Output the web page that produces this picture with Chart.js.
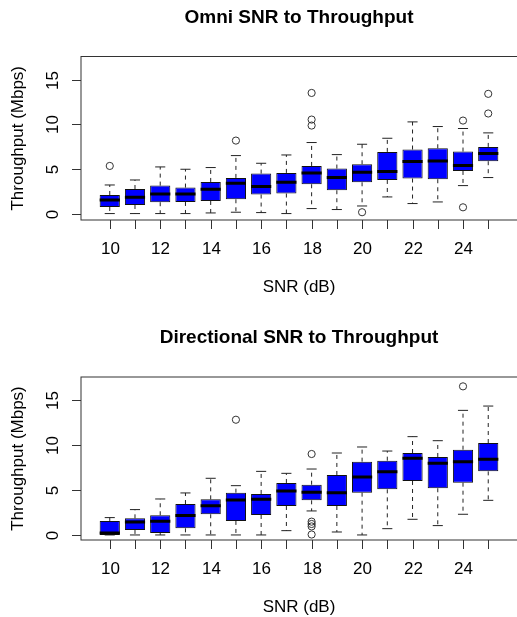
<!DOCTYPE html>
<html>
<head>
<meta charset="utf-8">
<script src="https://cdn.jsdelivr.net/npm/chart.js@4/dist/chart.umd.min.js"></script>
<style>
  html, body { margin: 0; padding: 0; background: #fff; }
  #wrap { position: relative; width: 517px; height: 617px; overflow: hidden; }
  canvas { position: absolute; left: 0; }
  #omniChart { top: 0; }
  #dirChart { top: 310px; }
</style>
</head>
<body>
<div id="wrap">
  <canvas id="omniChart" width="517" height="310"></canvas>
  <canvas id="dirChart" width="517" height="307"></canvas>
</div>
<script>
// SNR categories and tick labels
const snr = [10, 11, 12, 13, 14, 15, 16, 17, 18, 19, 20, 21, 22, 23, 24, 25];
const snrLabels = ['10', '', '12', '', '14', '', '16', '', '18', '', '20', '', '22', '', '24', ''];
const yTicks = [0, 5, 10, 15];

// Omni: five-number summaries per SNR (Mbps)
const omniMin = [0, 0, 0, 0, 0.07, 0.15, 0.11, 0, 0.56, 0.45, 0.85, 1.86, 1.12, 1.3, 3.13, 4.03];
const omniQ1  = [0.74, 0.96, 1.27, 1.3, 1.41, 1.6, 2.13, 2.24, 3.28, 2.61, 3.5, 3.76, 3.92, 3.84, 4.77, 5.86];
const omniMed = [1.52, 1.83, 2.2, 2.2, 2.72, 3.39, 3.02, 3.5, 4.55, 4.03, 4.62, 4.7, 5.82, 5.89, 5.37, 6.72];
const omniQ3  = [2.08, 2.75, 3.13, 2.91, 3.54, 3.99, 4.48, 4.55, 5.33, 5.04, 5.52, 6.9, 7.17, 7.31, 6.94, 7.46];
const omniMax = [3.2, 3.76, 5.22, 4.96, 5.15, 6.49, 5.63, 6.56, 7.95, 6.6, 7.76, 8.43, 10.26, 9.74, 9.52, 9.03];
const omniOut = [[10, 5.33], [15, 8.17], [18, 13.5], [18, 10.52], [18, 9.85], [20, 0.15], [24, 10.41], [24, 0.7], [25, 13.4], [25, 11.2]];

// Directional
const dirMin = [0, 0, 0, 0, 0, 0, 0, 0.48, 2.67, 0.33, 0, 0.7, 1.74, 1.04, 2.3, 3.85];
const dirQ1  = [0, 0.56, 0.22, 0.74, 2.3, 1.56, 2.22, 3.22, 3.85, 3.22, 4.7, 5.07, 6.0, 5.19, 5.81, 7.07];
const dirMed = [0.22, 1.44, 1.52, 2.15, 3.26, 3.89, 3.96, 4.89, 4.74, 4.7, 6.44, 7.04, 8.52, 7.96, 8.15, 8.41];
const dirQ3  = [1.56, 1.85, 2.19, 3.44, 3.96, 4.7, 4.56, 5.78, 5.59, 6.67, 8.15, 8.26, 9.11, 8.67, 9.48, 10.22];
const dirMax = [1.93, 2.82, 4.0, 4.67, 6.3, 5.48, 7.07, 6.85, 7.33, 9.11, 9.78, 9.33, 10.93, 10.48, 13.85, 14.33];
const dirOut = [[15, 12.81], [18, 9.0], [18, 1.48], [18, 1.22], [18, 0.95], [18, 0.05], [24, 16.52]];

const FONT = '"Liberation Sans", Arial, Helvetica, sans-serif';

// R-style frame, ticks and labels drawn from the chart's own scales
const rAxes = {
  id: 'rAxes',
  afterDraw(chart, args, opts) {
    const { ctx, chartArea: a, scales } = chart;
    const x = scales.x, y = scales.y;
    ctx.save();
    ctx.strokeStyle = '#333';
    ctx.lineWidth = 1;
    // right side of the frame falls just past the page edge
    ctx.strokeRect(a.left, a.top, a.right - a.left + 1, a.bottom - a.top);

    ctx.fillStyle = '#000';
    ctx.font = '17px ' + FONT;
    ctx.textAlign = 'center';
    ctx.textBaseline = 'middle';
    snr.forEach((s, i) => {
      const px = Math.round(x.getPixelForValue(i + 1)) + 0.5;
      ctx.beginPath();
      ctx.moveTo(px, a.bottom);
      ctx.lineTo(px, a.bottom + 9);
      ctx.stroke();
      if (snrLabels[i]) ctx.fillText(snrLabels[i], px, a.bottom + 29);
    });
    yTicks.forEach(v => {
      const py = Math.round(y.getPixelForValue(v)) + 0.5;
      ctx.beginPath();
      ctx.moveTo(a.left - 9, py);
      ctx.lineTo(a.left, py);
      ctx.stroke();
      ctx.save();
      ctx.translate(a.left - 28, py);
      ctx.rotate(-Math.PI / 2);
      ctx.fillText(String(v), 0, 0);
      ctx.restore();
    });

    ctx.fillText(opts.xTitle, (a.left + a.right) / 2, a.bottom + 67);
    ctx.save();
    ctx.translate(18.5, (a.top + a.bottom) / 2);
    ctx.rotate(-Math.PI / 2);
    ctx.fillText(opts.yTitle, 0, 0);
    ctx.restore();

    ctx.font = 'bold 19px ' + FONT;
    ctx.fillText(opts.title, (a.left + a.right) / 2, a.top - 39);
    ctx.restore();
  }
};

function boxDatasets(mins, q1, med, q3, maxs, outs) {
  const pos = snr.map((s, i) => i + 1);
  const gap = x => ({ x, y: null });
  const half = 0.4, cap = 0.2;
  return [
    {
      type: 'line', order: 0,
      data: pos.flatMap((x, i) => [{ x: x - half, y: med[i] }, { x: x + half, y: med[i] }, gap(x)]),
      borderColor: '#000', borderWidth: 3, pointRadius: 0, fill: false
    },
    {
      type: 'scatter', order: 1,
      data: outs.map(([s, v]) => ({ x: snr.indexOf(s) + 1, y: v })),
      pointStyle: 'circle', pointRadius: 3.6, borderWidth: 1,
      borderColor: '#333', backgroundColor: 'rgba(0,0,0,0)'
    },
    {
      type: 'bar', order: 2,
      data: pos.map((x, i) => ({ x, y: [q1[i], q3[i]] })),
      backgroundColor: '#0000ff', borderColor: '#111', borderWidth: 1, borderSkipped: false,
      categoryPercentage: 1, barPercentage: 0.8
    },
    {
      type: 'line', order: 3,
      data: pos.flatMap((x, i) => [{ x, y: q3[i] }, { x, y: maxs[i] }, gap(x), { x, y: q1[i] }, { x, y: mins[i] }, gap(x)]),
      borderColor: '#222', borderWidth: 1, borderDash: [4, 4], pointRadius: 0, fill: false
    },
    {
      type: 'line', order: 3,
      data: pos.flatMap((x, i) => [
        { x: x - cap, y: maxs[i] }, { x: x + cap, y: maxs[i] }, gap(x),
        { x: x - cap, y: mins[i] }, { x: x + cap, y: mins[i] }, gap(x)
      ]),
      borderColor: '#222', borderWidth: 1, pointRadius: 0, fill: false
    }
  ];
}

function makeChart(id, datasets, title, yMin, yMax, pad) {
  return new Chart(document.getElementById(id), {
    type: 'bar',
    data: { datasets },
    plugins: [rAxes],
    options: {
      responsive: false,
      animation: false,
      devicePixelRatio: 1,
      events: [],
      layout: { padding: pad, autoPadding: false },
      plugins: {
        legend: { display: false },
        tooltip: { enabled: false },
        rAxes: { title, xTitle: 'SNR (dB)', yTitle: 'Throughput (Mbps)' }
      },
      scales: {
        x: {
          type: 'linear', display: false, offset: false, grid: { offset: false },
          min: -0.14, max: 17.14,
          afterBuildTicks: s => { s.ticks = snr.map((v, i) => ({ value: i + 1 })); }
        },
        y: {
          type: 'linear', display: false, min: yMin, max: yMax,
          afterBuildTicks: s => { s.ticks = yTicks.map(v => ({ value: v })); }
        }
      }
    }
  });
}

makeChart('omniChart', boxDatasets(omniMin, omniQ1, omniMed, omniQ3, omniMax, omniOut),
  'Omni SNR to Throughput', -0.72, 17.58, { left: 81, top: 56.5, right: 0, bottom: 90 });
makeChart('dirChart', boxDatasets(dirMin, dirQ1, dirMed, dirQ3, dirMax, dirOut),
  'Directional SNR to Throughput', -0.56, 17.56, { left: 81, top: 67, right: 0, bottom: 77 });
</script>
</body>
</html>
